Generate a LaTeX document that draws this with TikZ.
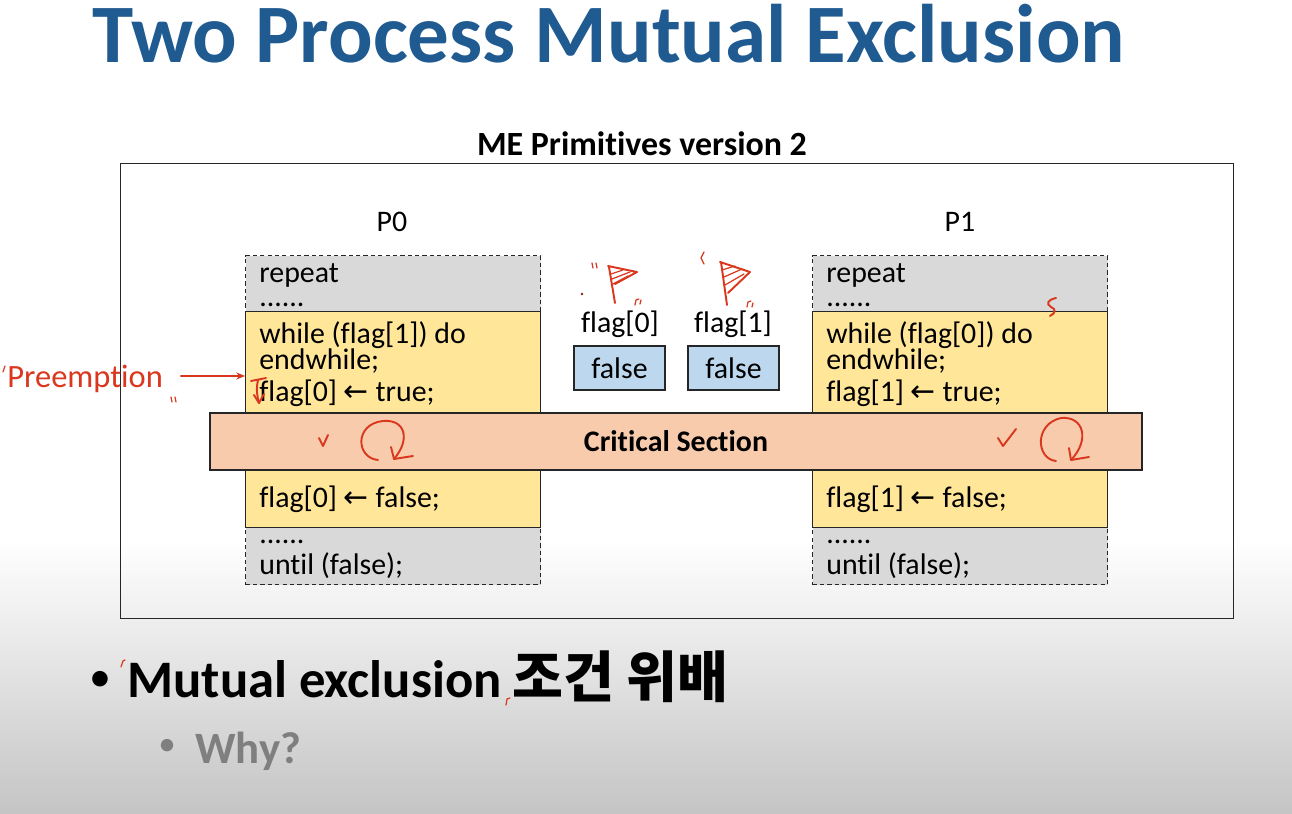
\documentclass[tikz,border=0pt]{standalone}
\usepackage{fontspec}
\setmainfont{Carlito}[Ligatures=NoCommon]
\newfontfamily\kofont{Noto Sans CJK KR}
\newfontfamily\symfont{DejaVu Sans}
\usetikzlibrary{arrows.meta}
\definecolor{titleblue}{HTML}{1F5A91}
\definecolor{graybg}{HTML}{D9D9D9}
\definecolor{codeyellow}{HTML}{FFE699}
\definecolor{csorange}{HTML}{F8CBAD}
\definecolor{flagblue}{HTML}{BDD7EE}
\definecolor{inkred}{HTML}{D9381E}
\definecolor{whygray}{HTML}{7F7F7F}
\newcommand{\larr}{{\symfont\char"2190}}
\begin{document}
\begin{tikzpicture}[x=0.02cm,y=-0.02cm,
  body/.style={font=\fontsize{17}{20}\selectfont, inner sep=0pt, anchor=base west, text=black},
  label/.style={font=\fontsize{17}{20}\selectfont, inner sep=0pt, text=black},
  dashbox/.style={draw=black!85, line width=0.8pt, dash pattern=on 2.4pt off 1.8pt, fill=graybg,
    minimum width=5.9cm, inner sep=0pt, anchor=north west},
  codebox/.style={draw=black!85, line width=0.8pt, fill=codeyellow, minimum width=5.9cm,
    minimum height=4.32cm, inner sep=0pt, anchor=north west},
  flagbox/.style={draw=black!85, line width=0.8pt, fill=flagblue, minimum width=1.82cm,
    minimum height=0.88cm, inner sep=0pt, font=\fontsize{17}{20}\selectfont},
  ink/.style={draw=inkred, line width=1.1pt, line cap=round, line join=round},
  thinink/.style={draw=inkred, line width=0.7pt, line cap=round, line join=round}
]
\useasboundingbox (0,0) rectangle (1292,814);

% page background: white fading to gray at the foot
\fill[white] (0,0) rectangle (1292,541);
\shade[top color=white, bottom color=black!23] (0,540) rectangle (1292,814);

% headings
\node[font=\fontsize{47.3}{50}\selectfont\bfseries, text=titleblue, inner sep=0pt, anchor=base west]
  (title) at (92,63) {Two Process Mutual Exclusion};
\node[font=\fontsize{19.3}{22}\selectfont\bfseries, inner sep=0pt] (subtitle) at (642,144) {ME Primitives version 2};

% outer frame
\node[draw=black!85, line width=0.8pt, minimum width=22.26cm, minimum height=9.1cm, inner sep=0pt,
  anchor=north west] (frame) at (120,163) {};

% process labels
\node[label] (p0) at (392,222) {P0};
\node[label] (p1) at (960,222) {P1};

% P0 code blocks
\node[dashbox, minimum height=1.12cm] (p0top) at (245,255) {};
\node[codebox] (p0mid) at (245,311) {};
\node[dashbox, minimum height=1.14cm] (p0bot) at (245,527) {};
% P1 code blocks
\node[dashbox, minimum height=1.12cm] (p1top) at (812,255) {};
\node[codebox] (p1mid) at (812,311) {};
\node[dashbox, minimum height=1.14cm] (p1bot) at (812,527) {};

% P0 code text
\node[body, text depth=0pt] (a1) at (259,283) {repeat};
\node[body] (a2) at (259,307) {......};
\node[body] (a3) at (259,343) {while (flag[1]) do};
\node[body] (a4) at (259,370) {endwhile;};
\node[body] (a5) at (259,401) {flag[0] \larr\ true;};
\node[body] (a6) at (259,507) {flag[0] \larr\ false;};
\node[body] (a7) at (259,543) {......};
\node[body] (a8) at (259,574) {until (false);};
% P1 code text
\node[body, text depth=0pt] (b1) at (826,283) {repeat};
\node[body] (b2) at (826,307) {......};
\node[body] (b3) at (826,343) {while (flag[0]) do};
\node[body] (b4) at (826,370) {endwhile;};
\node[body] (b5) at (826,401) {flag[1] \larr\ true;};
\node[body] (b6) at (826,507) {flag[1] \larr\ false;};
\node[body] (b7) at (826,543) {......};
\node[body] (b8) at (826,574) {until (false);};

% shared flags
\node[label, anchor=base] (f0) at (620,333) {flag[0]};
\node[label, anchor=base] (f1) at (733,333) {flag[1]};
\node[flagbox] (v0) at (619.5,368) {false};
\node[flagbox] (v1) at (733.5,368) {false};

% critical section band
\node[draw=black!85, line width=0.8pt, fill=csorange, minimum width=18.64cm, minimum height=1.14cm,
  inner sep=0pt, font=\fontsize{17}{20}\selectfont\bfseries] (cs) at (676,441.5) {Critical Section};

% bullets
\node[font=\fontsize{25}{30}\selectfont, inner sep=0pt] (dot1) at (100,681) {•};
\node[font=\fontsize{30}{36}\selectfont\bfseries, inner sep=0pt, anchor=base west] (point)
  at (127,697) {Mutual exclusion\hspace{0.2em}{\kofont\bfseries\fontsize{31.5}{36}\selectfont 조건 위배}};
\node[font=\fontsize{20}{24}\selectfont, text=whygray, inner sep=0pt] (dot2) at (167,747) {•};
\node[font=\fontsize{25.5}{28}\selectfont\bfseries, text=whygray, inner sep=0pt, anchor=base west] (why)
  at (195,763) {Why?};

% handwritten annotations
\node[font=\fontsize{18.5}{22}\selectfont, text=inkred, inner sep=0pt, anchor=base west] (pre) at (7,387) {Preemption};
\coordinate (preTip) at (p0mid.west |- 0,376);
\draw[thinink, -{Stealth[length=5pt,width=4pt]}] ([xshift=10pt]pre.east |- preTip) -- (preTip);
\draw[thinink] (3,372) -- (5,366);
\draw[thinink] (171,397) -- (172,402) (175,397) -- (176,402);

% preemption mark on P0
\draw[ink] (251,381) -- (266,378);
\draw[ink] (258,380) .. controls (256,389) and (257,396) .. (259,403);
\draw[ink] (254,395) -- (259,403) -- (264,394);

% checks and loops in the critical section
\draw[ink] (319,438) -- (323,446) -- (328,435);
\draw[ink] (378,460) .. controls (356,458) and (354,424) .. (383,421)
  .. controls (405,419) and (411,439) .. (394,459);
\draw[ink] (391,447) -- (394,459) -- (413,456);
\draw[ink] (998,438) -- (1003,446) -- (1016,429);
\draw[ink] (1056,461) .. controls (1036,459) and (1034,424) .. (1061,418)
  .. controls (1084,416) and (1090,440) .. (1071,460);
\draw[ink] (1069,448) -- (1071,460) -- (1089,457);

% flags sketched above the shared variables
\draw[ink] (609,267) -- (615,303);
\draw[ink] (608,266) -- (637,272) -- (615,284);
\draw[thinink] (611,274) -- (623,270) (612,279) -- (630,272) (613,284) -- (628,276);
\draw[ink] (721,262) -- (727,305);
\draw[ink] (720,262) -- (750,272) -- (728,293);
\draw[thinink] (722,270) -- (735,266) (724,277) -- (742,269) (725,285) -- (744,274);
\draw[thinink] (592,263) -- (593,268) (596,263) -- (597,268);
\fill[inkred!60!black] (582,294) circle (1.3);
\draw[thinink] (635,305) -- (636,300) -- (639,299) (640,304) -- (641,300);
\draw[thinink] (704,252) -- (701,258) -- (704,264);
\draw[thinink] (747,307) -- (748,302) -- (751,301) (752,307) -- (753,303);

% squiggle on P1
\draw[ink] (1056,298) .. controls (1047,300) and (1046,304) .. (1051,307)
  .. controls (1056,309) and (1056,313) .. (1050,316);

% small marks by the bullet
\draw[thinink] (121,667) -- (123,661) -- (125,660);
\draw[thinink] (506,705) -- (507,699) -- (510,698);
\end{tikzpicture}
\end{document}
